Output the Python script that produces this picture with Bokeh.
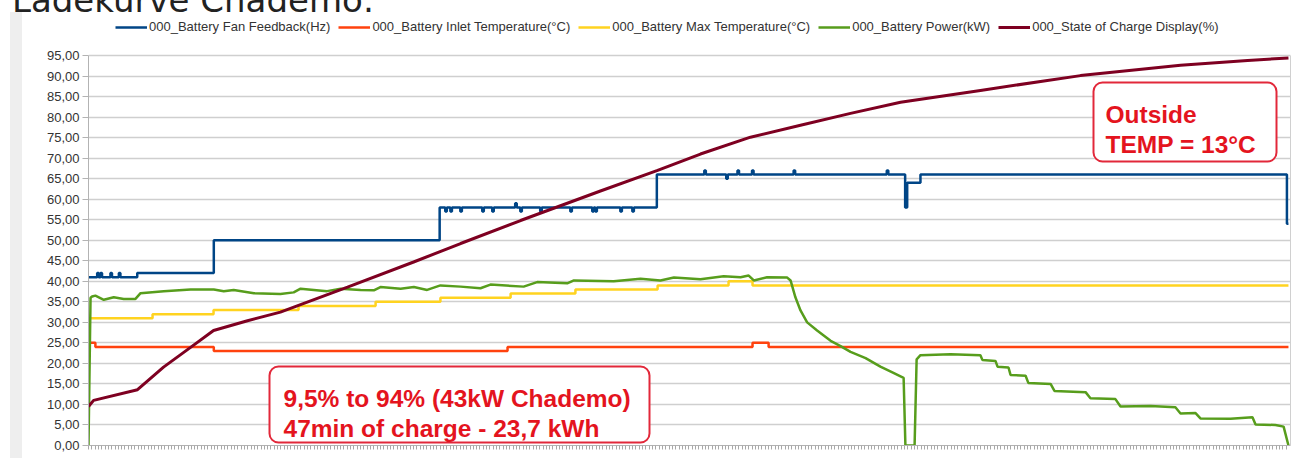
import numpy as np
from bokeh.plotting import figure
from bokeh.layouts import column, row
from bokeh.models import (Range1d, FixedTicker, Legend, LegendItem, Label, BoxAnnotation,
                          LinearAxis, Div)
from bokeh.embed import file_html
from bokeh.resources import INLINE

# ---------------- data (time in minutes) ----------------
series_names = [
    "000_Battery Fan Feedback(Hz)",
    "000_Battery Inlet Temperature(°C)",
    "000_Battery Max Temperature(°C)",
    "000_Battery Power(kW)",
    "000_State of Charge Display(%)",
]

fan_t = [0, 0.34, 0.40, 0.47, 0.53, 0.86, 0.92, 1.19, 1.25, 1.91, 4.91, 13.76,
         13.98, 14.04, 14.18, 14.24, 14.57, 14.63, 15.43, 15.49, 15.82, 15.88,
         16.72, 16.78, 16.92, 16.98, 17.70, 17.76, 18.88, 18.94, 19.74, 19.80,
         19.86, 19.92, 20.84, 20.90, 21.31, 21.37, 22.27,
         24.13, 24.19, 24.99, 25.05, 25.43, 25.49, 26.00, 26.06, 27.63, 27.69,
         31.28, 31.34, 32.00, 32.08, 32.60, 46.96, 47.02]
fan_v = [41, 42, 41, 42, 41, 42, 41, 42, 41, 42, 50, 58,
         57, 58, 57, 58, 57, 58, 57, 58, 57, 58,
         59, 58, 57, 58, 57, 58, 57, 58, 57, 58,
         57, 58, 57, 58, 57, 58, 66,
         67, 66, 65, 66, 67, 66, 67, 66, 67, 66,
         67, 66, 58, 64, 66, 54, 54]

inlet_t = [0, 0.27, 4.91, 16.42, 26.02, 26.65, 47.02]
inlet_v = [25, 24, 23, 24, 25, 24, 24]

maxt_t = [0, 2.51, 4.90, 8.23, 11.25, 13.79, 16.54, 19.08, 22.30, 25.08, 26.02, 47.02]
maxt_v = [31, 32, 33, 34, 35, 36, 37, 38, 39, 40, 39, 39]

power_t = [0, 0.08, 0.14, 0.27, 0.60, 0.99, 1.38, 1.84, 2.04, 2.95, 4.00, 4.91,
           5.30, 5.69, 6.48, 7.52, 8.04, 8.31, 8.83, 9.35, 9.88, 10.66, 11.18,
           11.44, 12.23, 12.75, 13.27, 13.79, 14.58, 15.36, 15.75, 17.05, 17.58,
           18.76, 19.02, 20.58, 21.63, 22.41, 22.94, 23.98, 24.89, 25.55, 25.87,
           26.07, 26.59, 27.38, 27.51, 27.70, 27.90, 28.16, 28.55, 29.08, 29.47,
           29.86, 30.45, 31.03, 31.50, 31.94, 32.01, 32.37, 32.45, 32.60, 33.78,
           34.95, 35.03, 35.54, 35.62, 36.05, 36.13, 36.72, 36.83, 37.70, 37.85,
           39.07, 39.26, 40.24, 40.44, 41.61, 42.59, 42.79, 43.38, 43.57, 44.75,
           45.61, 45.73, 46.51, 46.83, 47.02]
power_v = [0, 36.0, 36.3, 36.5, 35.5, 36.1, 35.7, 35.7, 37.1, 37.6, 38.0, 38.0,
           37.6, 37.9, 37.1, 36.9, 37.3, 38.2, 37.9, 37.6, 38.2, 37.9, 37.8,
           38.6, 38.2, 38.6, 37.9, 39.0, 38.7, 38.3, 39.2, 38.7, 39.8,
           39.5, 40.2, 40.0, 40.6, 40.2, 40.9, 40.5, 41.2, 41.0, 41.4,
           40.2, 41.0, 40.9, 40.2, 36.1, 32.9, 30.0, 28.0, 25.5, 24.2,
           22.8, 21.3, 19.2, 17.8, 16.5, 0, 0, 21.0, 22.0, 22.2,
           22.0, 20.8, 20.6, 19.2, 19.0, 17.2, 17.0, 15.2, 15.0, 13.3,
           13.0, 11.5, 11.3, 9.5, 9.6, 9.3, 7.8, 7.9, 6.6, 6.5,
           6.9, 5.1, 5.0, 4.6, 0]

soc_t = [0, 0.20, 1.92, 2.94, 4.00, 4.90, 6.23, 7.52, 10.15, 12.74, 14.58, 16.93,
         20.06, 22.30, 23.98, 25.94, 27.90, 29.86, 31.82, 34.95, 38.87, 42.79,
         45.42, 47.02]
soc_v = [9.5, 11.0, 13.6, 19.1, 23.9, 28.0, 30.4, 32.5, 38.6, 44.7, 49.2, 54.8,
         62.0, 67.0, 71.0, 75.1, 78.0, 80.9, 83.6, 86.5, 90.1, 92.6,
         93.8, 94.4]

y_ticks = list(range(0, 100, 5))
y_tick_labels = ["0,00", "5,00", "10,00", "15,00", "20,00", "25,00", "30,00", "35,00",
                 "40,00", "45,00", "50,00", "55,00", "60,00", "65,00", "70,00",
                 "75,00", "80,00", "85,00", "90,00", "95,00"]

note_lines = ["9,5% to 94% (43kW Chademo)", "47min of charge - 23,7 kWh"]
temp_lines = ["Outside", "TEMP = 13°C"]
title_text = "Ladekurve Chademo:"

# ---------------- style ----------------
COLORS = ["#004586", "#ff420e", "#ffd320", "#579d1c", "#7e0021"]
RED = "#e4141e"
BOX_RED = "#e2283a"
FONT = "Liberation Sans"

X_MAX = 47.1
# frame geometry in page pixels, used to place annotations
FX0, FX1 = 88, 1290          # left / right of plot area
Y95, Y0 = 55, 445            # pixel rows of 95 and 0
TOP = 12                     # top of the chart object
PW, PH = 1296 - 22, 458 - TOP

def px2x(px):
    return (px - FX0) * X_MAX / (FX1 - FX0)

def px2y(py):
    return (Y0 - py) * 95.0 / (Y0 - Y95)

p = figure(width=PW, height=PH, x_range=Range1d(0, X_MAX), y_range=Range1d(0, px2y(TOP)),
           output_backend="svg", toolbar_location=None,
           min_border_left=FX0 - 22, min_border_right=1296 - FX1, min_border_top=0,
           min_border_bottom=PH - (Y0 - TOP))
p.margin = (0, 0, 0, 0)
p.background_fill_color = "white"
p.border_fill_color = "white"
p.outline_line_color = None

# axes
p.yaxis.ticker = FixedTicker(ticks=y_ticks, minor_ticks=[])
p.yaxis.bounds = (0, 95)
p.yaxis.major_label_overrides = {t: lab for t, lab in zip(y_ticks, y_tick_labels)}
p.yaxis.major_label_text_font = FONT
p.yaxis.major_label_text_font_size = "13px"
p.yaxis.major_label_text_color = "#333333"
p.yaxis.major_label_standoff = 3
p.yaxis.major_tick_out = 6
p.yaxis.major_tick_in = 0
p.yaxis.major_tick_line_color = "#b3b3b3"
p.yaxis.axis_line_color = "#b3b3b3"

p.xaxis.ticker = FixedTicker(ticks=[], minor_ticks=list(np.arange(0, 47.05, 0.13)))
p.xaxis.major_label_standoff = 0
p.xaxis.major_tick_out = 0
p.xaxis.minor_tick_out = 4
p.xaxis.minor_tick_in = 0
p.xaxis.minor_tick_line_color = "#a8a8a8"
p.xaxis.axis_line_color = "#b3b3b3"

right_axis = LinearAxis(ticker=FixedTicker(ticks=[], minor_ticks=[]), bounds=(0, 95),
                        axis_line_color="#d0d0d0", major_tick_out=0, major_tick_in=0,
                        minor_tick_out=0, minor_tick_in=0, major_label_standoff=0)
p.add_layout(right_axis, "right")

p.xgrid.visible = False
p.ygrid.ticker = FixedTicker(ticks=y_ticks, minor_ticks=[])
p.ygrid.grid_line_color = "#cfcfcf"
p.ygrid.grid_line_width = 1.5

# series
r_fan = p.step(fan_t, fan_v, mode="after", line_color=COLORS[0], line_width=2.5)
r_inlet = p.step(inlet_t, inlet_v, mode="after", line_color=COLORS[1], line_width=2.5)
r_max = p.step(maxt_t, maxt_v, mode="after", line_color=COLORS[2], line_width=2.5)
r_pow = p.line(power_t, power_v, line_color=COLORS[3], line_width=2.5)
r_soc = p.line(soc_t, soc_v, line_color=COLORS[4], line_width=3)

legend = Legend(items=[LegendItem(label=n, renderers=[r]) for n, r in
                       zip(series_names, [r_fan, r_inlet, r_max, r_pow, r_soc])],
                orientation="horizontal", location=(115 - FX0, Y0 - 34),
                padding=0, margin=0, spacing=8, label_standoff=2,
                glyph_width=32, glyph_height=14, label_height=14,
                label_text_font=FONT, label_text_font_size="13px",
                label_text_color="#333333",
                border_line_alpha=0, background_fill_alpha=0)
p.add_layout(legend, "center")

# annotation boxes
for l, r, t, b in [(269, 649, 366, 442), (1093, 1276, 82, 161)]:
    p.add_layout(BoxAnnotation(left=px2x(l), right=px2x(r), top=px2y(t), bottom=px2y(b),
                               fill_color="white", fill_alpha=1, line_color=BOX_RED,
                               line_alpha=1, line_width=2, border_radius=9))

for txt, bx, by in [(note_lines[0], 283, 398), (note_lines[1], 283, 428),
                    (temp_lines[0], 1105, 114), (temp_lines[1], 1105, 144)]:
    p.add_layout(Label(x=px2x(bx), y=px2y(by), text=txt, text_font=FONT,
                       text_font_style="bold", text_font_size="24.5px",
                       text_color=RED, text_baseline="alphabetic"))

# page title, cut off at the top of the screenshot
title_div = Div(text=('<div style="font-family:\'DejaVu Sans\'; font-size:34px; '
                      'line-height:34px; margin-top:-19px; margin-left:12px; '
                      'color:#222222; white-space:nowrap;">' + title_text + '</div>'),
                width=1296, height=TOP, margin=(0, 0, 0, 0),
                styles={"overflow": "hidden"})
# light gray window strip at the left of the chart object
strip = Div(text="", width=12, height=PH, margin=(0, 0, 0, 10),
            styles={"background-color": "#eeeeee"})

layout = column(title_div, row(strip, p, spacing=0), spacing=0)
layout.margin = (0, 0, 0, 0)

open("out.html", "w").write(file_html(layout, INLINE))
